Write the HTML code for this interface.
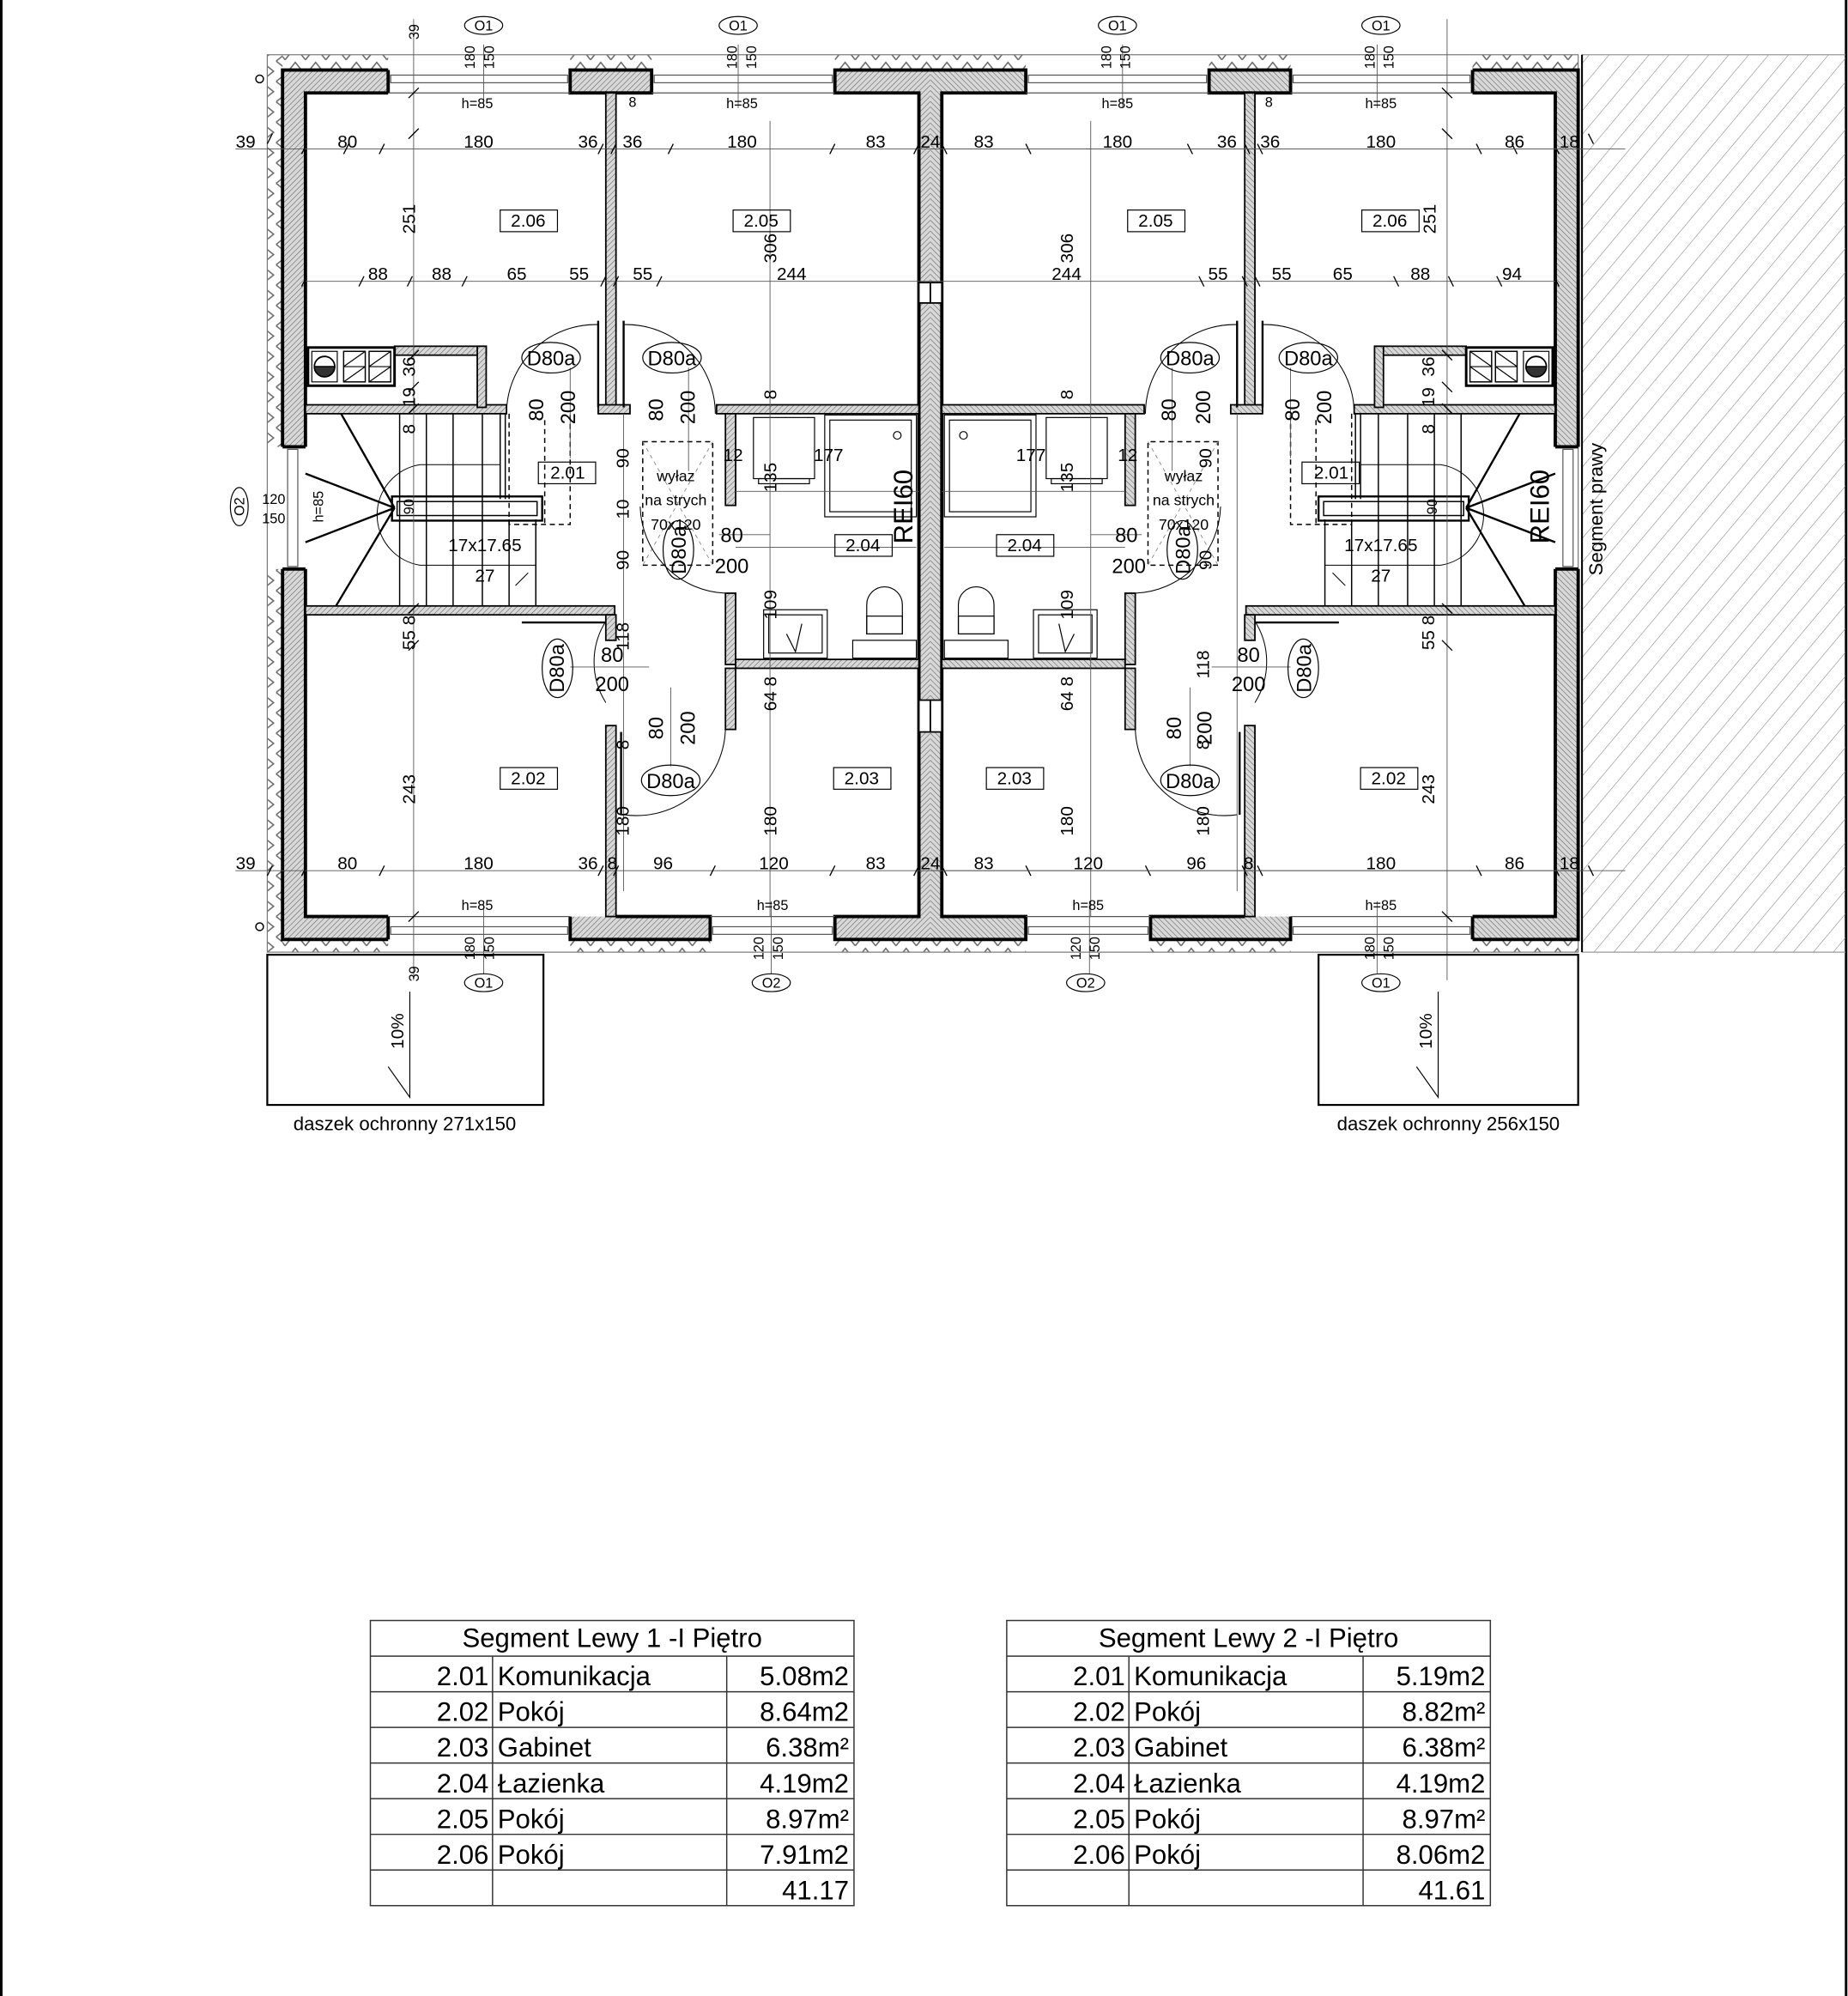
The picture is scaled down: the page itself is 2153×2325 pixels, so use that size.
<!DOCTYPE html>
<html><head><meta charset="utf-8">
<style>
html,body{margin:0;padding:0;background:#fff;}
svg{display:block;}
text{font-family:"Liberation Sans Narrow","Liberation Sans",sans-serif;fill:#000;}
.s{font-size:11px;}
.m{font-size:14px;}
.l{font-size:16px;}
.t{font-size:21px;font-family:"Liberation Sans",sans-serif;}
</style></head>
<body>
<svg width="2153" height="2325" viewBox="0 0 1452 1568" xmlns="http://www.w3.org/2000/svg">
<defs>
<pattern id="h" width="3" height="3" patternUnits="userSpaceOnUse" patternTransform="rotate(45)">
<rect width="3" height="3" fill="#d8d8d8"/><line x1="0" y1="0" x2="0" y2="3" stroke="#666" stroke-width="0.8"/>
</pattern>
<pattern id="big" width="12" height="12" patternUnits="userSpaceOnUse" patternTransform="rotate(40)">
<line x1="0" y1="0" x2="0" y2="12" stroke="#888" stroke-width="0.8"/>
</pattern>
<pattern id="zzv" width="12" height="16" patternUnits="userSpaceOnUse">
<polyline points="1,0 11,8 1,16" fill="none" stroke="#666" stroke-width="1"/>
</pattern>
<pattern id="zzh" width="16" height="12" patternUnits="userSpaceOnUse">
<polyline points="0,11 8,1 16,11" fill="none" stroke="#666" stroke-width="1"/>
</pattern>
<g id="half">
  <rect x="222" y="55" width="83" height="18" fill="url(#h)"/>
  <rect x="448" y="55" width="64" height="18" fill="url(#h)"/>
  <rect x="656" y="55" width="75" height="18" fill="url(#h)"/>
  <rect x="722" y="73" width="9" height="647" fill="url(#h)"/>
  <rect x="222" y="720" width="83" height="18" fill="url(#h)"/>
  <rect x="448" y="720" width="110" height="18" fill="url(#h)"/>
  <rect x="656" y="720" width="75" height="18" fill="url(#h)"/>
  <rect x="222" y="55" width="18" height="296" fill="url(#h)"/>
  <rect x="222" y="447" width="18" height="291" fill="url(#h)"/>
  <g stroke="#000" stroke-width="2.6" fill="none">
    <polyline points="305,55 222,55 222,351"/>
    <polyline points="305,73 240,73 240,351"/>
    <line x1="305" y1="55" x2="305" y2="73"/>
    <polyline points="222,351 240,351"/>
    <polyline points="222,447 240,447"/>
    <polyline points="305,738 222,738 222,447"/>
    <polyline points="305,720 240,720 240,447"/>
    <line x1="305" y1="720" x2="305" y2="738"/>
    <rect x="448" y="55" width="64" height="18"/>
    <polyline points="731,55 656,55 656,73 722,73 722,720 656,720 656,738 731,738"/>
    <polyline points="448,720 448,738 558,738 558,720 484,720"/>
  </g>
  <g stroke="#555" stroke-width="0.8" fill="none">
    <rect x="307" y="59" width="139" height="6"/>
    <rect x="514" y="59" width="140" height="6"/>
    <rect x="307" y="728" width="139" height="6"/>
    <rect x="560" y="728" width="94" height="6"/>
    <rect x="226" y="353" width="8" height="92"/>
    <line x1="305" y1="73" x2="448" y2="73"/>
    <line x1="512" y1="73" x2="656" y2="73"/>
    <line x1="305" y1="720" x2="448" y2="720"/>
    <line x1="558" y1="720" x2="656" y2="720"/>
  </g>
  <g fill="url(#h)" stroke="#000" stroke-width="1.2">
    <rect x="476" y="73" width="8" height="247"/>
    <rect x="240" y="318" width="158" height="7"/>
    <rect x="470" y="318" width="25" height="7"/>
    <rect x="563" y="318" width="159" height="7"/>
    <rect x="310" y="272" width="72" height="7"/>
    <rect x="375" y="272" width="7" height="48"/>
    <rect x="570" y="325" width="8" height="72"/>
    <rect x="570" y="466" width="8" height="56"/>
    <rect x="578" y="518" width="144" height="7"/>
    <rect x="570" y="525" width="8" height="48"/>
    <rect x="240" y="476" width="243" height="7"/>
    <rect x="476" y="483" width="8" height="20"/>
    <rect x="476" y="570" width="8" height="150"/>
    <rect x="722" y="222" width="9" height="16" fill="#fff"/>
    <rect x="722" y="550" width="9" height="25" fill="#fff"/>
  </g>
  <g stroke="#000" fill="none">
    <rect x="242" y="273" width="68" height="30" stroke-width="2"/>
    <rect x="245" y="276" width="20" height="24" stroke-width="0.8"/>
    <circle cx="255" cy="288" r="8" stroke-width="1.2"/>
    <path d="M247,288 A8,8 0 0 0 263,288 Z" fill="#333"/>
    <rect x="270" y="276" width="17" height="24" stroke-width="1"/>
    <rect x="290" y="276" width="17" height="24" stroke-width="1"/>
    <path d="M270,288h17M290,288h17M270,288l17,-12M270,300l17,-12M290,288l17,-12M290,300l17,-12" stroke-width="0.8"/>
  </g>
  <g stroke="#000" fill="none" stroke-width="1">
    <line x1="314" y1="325" x2="314" y2="476"/><line x1="335" y1="325" x2="335" y2="476"/>
    <line x1="356" y1="325" x2="356" y2="476"/><line x1="379" y1="325" x2="379" y2="476"/>
    <line x1="400" y1="408" x2="400" y2="476"/><line x1="421" y1="408" x2="421" y2="476"/>
    <line x1="393" y1="325" x2="393" y2="392"/><line x1="397" y1="325" x2="397" y2="392"/>
    <rect x="308" y="390" width="118" height="19" stroke-width="1.6"/>
    <rect x="312" y="394" width="110" height="11"/>
    <g stroke-width="1.6">
    <line x1="310" y1="399" x2="268" y2="325"/>
    <line x1="310" y1="399" x2="240" y2="372"/>
    <line x1="310" y1="399" x2="240" y2="426"/>
    <line x1="310" y1="399" x2="264" y2="476"/>
    </g>
    <path d="M393,365 H330 A40,40 0 0 0 330,444 H421" stroke-width="0.7"/>
    <line x1="405" y1="460" x2="415" y2="450" stroke-width="0.7"/>
  </g>
  <g stroke="#000" fill="none" stroke-width="1" stroke-dasharray="4,3">
    <path d="M400,325 V412 H448 V325"/>
    <line x1="428" y1="330" x2="428" y2="412"/>
    <rect x="505" y="347" width="55" height="97"/>
  </g>
  <g stroke="#888" stroke-width="0.6" stroke-dasharray="3,3">
    <line x1="505" y1="347" x2="560" y2="444"/><line x1="560" y1="347" x2="505" y2="444"/>
  </g>
  <g stroke="#000" fill="none" stroke-width="0.7">
    <path d="M398,325 A70,70 0 0 1 470,255"/><line x1="470" y1="252" x2="470" y2="320" stroke-width="1.6"/>
    <path d="M562,325 A70,70 0 0 0 490,255"/><line x1="490" y1="252" x2="490" y2="320" stroke-width="1.6"/>
    <path d="M503,398 A70,70 0 0 0 570,466"/>
    <path d="M476,488 A60,60 0 0 0 476,552"/><line x1="410" y1="489" x2="476" y2="489" stroke-width="1.6"/>
    <path d="M570,570 A70,70 0 0 1 490,640"/><line x1="488" y1="575" x2="488" y2="640" stroke-width="1.6"/>
  </g>
  <g stroke="#000" fill="none" stroke-width="0.8">
    <rect x="592" y="328" width="48" height="48"/>
    <rect x="596" y="376" width="40" height="4"/>
    <rect x="648" y="326" width="72" height="80"/><rect x="652" y="330" width="64" height="72"/>
    <circle cx="705" cy="342" r="3"/>
    <path d="M681,498 V475 A14,14 0 0 1 709,475 V498 Z"/><rect x="681" y="484" width="28" height="14"/>
    <rect x="670" y="503" width="50" height="14"/>
    <rect x="600" y="479" width="50" height="38"/><rect x="604" y="483" width="42" height="30"/>
    <path d="M618,498 L625,512 L630,490"/>
  </g>
  <g stroke="#555" stroke-width="0.6">
    <line x1="325" y1="15" x2="325" y2="770"/>
    <line x1="605" y1="95" x2="605" y2="720"/>
    <line x1="490" y1="325" x2="490" y2="700"/>
    <line x1="185" y1="117" x2="731" y2="117"/>
    <line x1="240" y1="221" x2="731" y2="221"/>
    <line x1="185" y1="684" x2="731" y2="684"/>
    <line x1="578" y1="386" x2="722" y2="386"/>
    <line x1="578" y1="430" x2="720" y2="430"/>
    <line x1="380" y1="35" x2="380" y2="85"/><line x1="580" y1="35" x2="580" y2="85"/>
    <line x1="380" y1="708" x2="380" y2="765"/><line x1="606" y1="708" x2="606" y2="765"/>
    <line x1="448" y1="289" x2="448" y2="360"/><line x1="541" y1="289" x2="541" y2="370"/>
    <line x1="448" y1="524" x2="510" y2="524"/><line x1="565" y1="420" x2="605" y2="420"/>
    <line x1="527" y1="540" x2="527" y2="602"/>
  </g>
  <g stroke="#000" stroke-width="0.9">
    <path transform="translate(0,4)" d="M210,109l4,-8M237,117l4,-8M270,117l4,-8M298,117l4,-8M470,117l4,-8M480,117l4,-8M525,117l4,-8M652,117l4,-8M718,117l4,-8"/>
    <path transform="translate(0,4)" d="M237,221l4,-8M282,221l4,-8M320,221l4,-8M363,221l4,-8M472,221l4,-8M482,221l4,-8M516,221l4,-8"/>
    <path transform="translate(0,4)" d="M210,684l4,-8M237,684l4,-8M298,684l4,-8M470,684l4,-8M482,684l4,-8M558,684l4,-8M652,684l4,-8M718,684l4,-8"/>
    <path d="M321,77l8,-8M321,109l8,-8M321,283l8,-8M321,308l8,-8M321,325l8,-8M321,482l8,-8M321,511l8,-8M321,724l8,-8"/>
  </g>
</g>
</defs>

<rect x="0" y="0" width="1452" height="1568" fill="#fff"/>
<line x1="1" y1="0" x2="1" y2="1568" stroke="#000" stroke-width="2"/>
<line x1="1450.5" y1="0" x2="1450.5" y2="1568" stroke="#000" stroke-width="2"/>

<rect x="1243" y="43" width="207" height="705" fill="url(#big)"/>
<line x1="1243" y1="43" x2="1450" y2="43" stroke="#999" stroke-width="0.8"/>
<line x1="1243" y1="748" x2="1450" y2="748" stroke="#999" stroke-width="0.8"/>
<line x1="1243" y1="43" x2="1243" y2="748" stroke="#000" stroke-width="1.4"/>

<rect x="210" y="43" width="12" height="308" fill="url(#zzv)"/>
<rect x="210" y="447" width="12" height="301" fill="url(#zzv)"/>
<rect x="222" y="43" width="83" height="12" fill="url(#zzh)"/>
<rect x="448" y="43" width="64" height="12" fill="url(#zzh)"/>
<rect x="656" y="43" width="150" height="12" fill="url(#zzh)"/>
<rect x="950" y="43" width="64" height="12" fill="url(#zzh)"/>
<rect x="1157" y="43" width="83" height="12" fill="url(#zzh)"/>
<rect x="222" y="738" width="83" height="10" fill="url(#zzh)"/>
<rect x="448" y="738" width="110" height="10" fill="url(#zzh)"/>
<rect x="656" y="738" width="150" height="10" fill="url(#zzh)"/>
<rect x="904" y="738" width="110" height="10" fill="url(#zzh)"/>
<rect x="1157" y="738" width="83" height="10" fill="url(#zzh)"/>
<rect x="210" y="43" width="1030" height="705" fill="none" stroke="#777" stroke-width="0.8"/>

<use href="#half"/>
<use href="#half" transform="translate(1462,0) scale(-1,1)"/>

<rect x="210" y="750" width="217" height="118" fill="none" stroke="#000" stroke-width="1.5"/>
<rect x="1036" y="750" width="204" height="118" fill="none" stroke="#000" stroke-width="1.5"/>
<path d="M322,779 V862 L305,838" fill="none" stroke="#000" stroke-width="0.8"/>
<path d="M1130,779 V862 L1113,838" fill="none" stroke="#000" stroke-width="0.8"/>
<circle cx="204" cy="62" r="3" fill="none" stroke="#000"/>
<circle cx="204" cy="728" r="3" fill="none" stroke="#000"/>

<g fill="none" stroke="#000" stroke-width="0.8">
<rect x="393" y="165" width="45" height="17"/><rect x="576" y="165" width="45" height="17"/>
<rect x="886" y="165" width="45" height="17"/><rect x="1070" y="165" width="45" height="17"/>
<rect x="423" y="363" width="45" height="17"/><rect x="1023" y="363" width="45" height="17"/>
<rect x="656" y="420" width="45" height="17"/><rect x="783" y="420" width="45" height="17"/>
<rect x="393" y="603" width="45" height="17"/><rect x="1069" y="603" width="45" height="17"/>
<rect x="655" y="603" width="45" height="17"/><rect x="775" y="603" width="45" height="17"/>
<ellipse cx="380" cy="20" rx="15" ry="7"/><ellipse cx="580" cy="20" rx="15" ry="7"/>
<ellipse cx="878" cy="20" rx="15" ry="7"/><ellipse cx="1085" cy="20" rx="15" ry="7"/>
<ellipse cx="380" cy="772" rx="15" ry="7"/><ellipse cx="606" cy="772" rx="15" ry="7"/>
<ellipse cx="853" cy="772" rx="15" ry="7"/><ellipse cx="1085" cy="772" rx="15" ry="7"/>
<ellipse cx="188" cy="398" rx="7" ry="15"/>
<ellipse cx="433" cy="281" rx="23" ry="12"/><ellipse cx="528" cy="281" rx="23" ry="12"/>
<ellipse cx="935" cy="281" rx="23" ry="12"/><ellipse cx="1028" cy="281" rx="23" ry="12"/>
<ellipse cx="527" cy="613" rx="23" ry="12"/><ellipse cx="935" cy="613" rx="23" ry="12"/>
<ellipse cx="438" cy="525" rx="12" ry="23"/><ellipse cx="1024" cy="525" rx="12" ry="23"/>
<ellipse cx="533" cy="432" rx="12" ry="23"/><ellipse cx="929" cy="432" rx="12" ry="23"/>
</g>
<line x1="731" y1="117" x2="1240" y2="117" stroke="#555" stroke-width="0.6"/>
<line x1="731" y1="684" x2="1240" y2="684" stroke="#555" stroke-width="0.6"/>

<g class="m" text-anchor="middle">
<text x="415" y="178">2.06</text><text x="598" y="178">2.05</text><text x="908" y="178">2.05</text><text x="1092" y="178">2.06</text>
<text x="446" y="376">2.01</text><text x="1046" y="376">2.01</text>
<text x="678" y="433">2.04</text><text x="805" y="433">2.04</text>
<text x="415" y="616">2.02</text><text x="1091" y="616">2.02</text>
<text x="677" y="616">2.03</text><text x="797" y="616">2.03</text>
</g>
<g class="s" text-anchor="middle">
<text x="380" y="24">O1</text><text x="580" y="24">O1</text><text x="878" y="24">O1</text><text x="1085" y="24">O1</text>
<text x="380" y="776">O1</text><text x="606" y="776">O2</text><text x="853" y="776">O2</text><text x="1085" y="776">O1</text>
<text x="375" y="85">h=85</text><text x="583" y="85">h=85</text><text x="878" y="85">h=85</text><text x="1085" y="85">h=85</text>
<text x="375" y="715">h=85</text><text x="607" y="715">h=85</text><text x="855" y="715">h=85</text><text x="1085" y="715">h=85</text>
<text x="215" y="396">120</text><text x="215" y="411">150</text>
<text x="497" y="84">8</text><text x="997" y="84">8</text>
</g>
<g class="m" text-anchor="middle">
<text x="193" y="116">39</text><text x="273" y="116">80</text><text x="376" y="116">180</text><text x="462" y="116">36</text>
<text x="497" y="116">36</text><text x="583" y="116">180</text><text x="688" y="116">83</text><text x="731" y="116">24</text>
<text x="773" y="116">83</text><text x="878" y="116">180</text><text x="964" y="116">36</text><text x="998" y="116">36</text>
<text x="1085" y="116">180</text><text x="1190" y="116">86</text><text x="1233" y="116">18</text>
<text x="297" y="220">88</text><text x="347" y="220">88</text><text x="406" y="220">65</text><text x="455" y="220">55</text>
<text x="505" y="220">55</text><text x="622" y="220">244</text>
<text x="838" y="220">244</text><text x="957" y="220">55</text><text x="1007" y="220">55</text>
<text x="1055" y="220">65</text><text x="1116" y="220">88</text><text x="1188" y="220">94</text>
<text x="193" y="683">39</text><text x="273" y="683">80</text><text x="376" y="683">180</text><text x="462" y="683">36</text>
<text x="481" y="683">8</text><text x="521" y="683">96</text><text x="608" y="683">120</text><text x="688" y="683">83</text>
<text x="731" y="683">24</text><text x="773" y="683">83</text><text x="855" y="683">120</text><text x="940" y="683">96</text>
<text x="981" y="683">8</text><text x="1085" y="683">180</text><text x="1190" y="683">86</text><text x="1233" y="683">18</text>
<text x="576" y="362">12</text><text x="651" y="362">177</text><text x="886" y="362">12</text><text x="810" y="362">177</text>
<text x="381" y="433">17x17.65</text><text x="381" y="457">27</text>
<text x="1085" y="433">17x17.65</text><text x="1085" y="457">27</text>
<text x="531" y="378" style="font-size:12px">wyłaz</text><text x="531" y="397" style="font-size:12px">na strych</text><text x="531" y="416" style="font-size:12px">70x120</text>
<text x="930" y="378" style="font-size:12px">wyłaz</text><text x="930" y="397" style="font-size:12px">na strych</text><text x="930" y="416" style="font-size:12px">70x120</text>
</g>
<g class="l" text-anchor="middle">
<text x="433" y="287">D80a</text><text x="528" y="287">D80a</text><text x="935" y="287">D80a</text><text x="1028" y="287">D80a</text>
<text x="527" y="619">D80a</text><text x="935" y="619">D80a</text>
<text x="575" y="426">80</text><text x="575" y="450">200</text><text x="885" y="426">80</text><text x="887" y="450">200</text>
<text x="481" y="520">80</text><text x="481" y="543">200</text><text x="981" y="520">80</text><text x="981" y="543">200</text>
</g>
<g class="l" text-anchor="middle">
<text transform="translate(443,525) rotate(-90)">D80a</text>
<text transform="translate(1030,525) rotate(-90)">D80a</text>
<text transform="translate(539,432) rotate(-90)">D80a</text>
<text transform="translate(935,432) rotate(-90)">D80a</text>
<text transform="translate(427,322) rotate(-90)">80</text><text transform="translate(452,320) rotate(-90)">200</text>
<text transform="translate(521,322) rotate(-90)">80</text><text transform="translate(546,320) rotate(-90)">200</text>
<text transform="translate(924,322) rotate(-90)">80</text><text transform="translate(951,320) rotate(-90)">200</text>
<text transform="translate(1021,322) rotate(-90)">80</text><text transform="translate(1046,320) rotate(-90)">200</text>
<text transform="translate(521,572) rotate(-90)">80</text><text transform="translate(546,572) rotate(-90)">200</text>
<text transform="translate(928,572) rotate(-90)">80</text><text transform="translate(952,572) rotate(-90)">200</text>
</g>
<g class="s" text-anchor="middle">
<text transform="translate(329,25) rotate(-90)">39</text><text transform="translate(329,765) rotate(-90)">39</text>
<text transform="translate(373,45) rotate(-90)">180</text><text transform="translate(388,45) rotate(-90)">150</text>
<text transform="translate(579,45) rotate(-90)">180</text><text transform="translate(594,45) rotate(-90)">150</text>
<text transform="translate(873,45) rotate(-90)">180</text><text transform="translate(888,45) rotate(-90)">150</text>
<text transform="translate(1080,45) rotate(-90)">180</text><text transform="translate(1095,45) rotate(-90)">150</text>
<text transform="translate(373,745) rotate(-90)">180</text><text transform="translate(388,745) rotate(-90)">150</text>
<text transform="translate(600,745) rotate(-90)">120</text><text transform="translate(615,745) rotate(-90)">150</text>
<text transform="translate(849,745) rotate(-90)">120</text><text transform="translate(864,745) rotate(-90)">150</text>
<text transform="translate(1080,745) rotate(-90)">180</text><text transform="translate(1095,745) rotate(-90)">150</text>
<text transform="translate(192,398) rotate(-90)">O2</text>
<text transform="translate(254,398) rotate(-90)">h=85</text>
</g>
<g class="m" text-anchor="middle">
<text transform="translate(326,172) rotate(-90)">251</text><text transform="translate(610,195) rotate(-90)">306</text>
<text transform="translate(843,195) rotate(-90)">306</text><text transform="translate(1128,172) rotate(-90)">251</text>
<text transform="translate(326,288) rotate(-90)">36</text><text transform="translate(326,312) rotate(-90)">19</text>
<text transform="translate(326,337) rotate(-90)">8</text><text transform="translate(610,310) rotate(-90)">8</text>
<text transform="translate(843,310) rotate(-90)">8</text>
<text transform="translate(1127,288) rotate(-90)">36</text><text transform="translate(1127,312) rotate(-90)">19</text>
<text transform="translate(1127,337) rotate(-90)">8</text>
<text transform="translate(494,360) rotate(-90)">90</text><text transform="translate(494,400) rotate(-90)">10</text>
<text transform="translate(494,440) rotate(-90)">90</text>
<text transform="translate(952,360) rotate(-90)">90</text><text transform="translate(952,440) rotate(-90)">90</text>
<text transform="translate(610,375) rotate(-90)">135</text><text transform="translate(610,475) rotate(-90)">109</text>
<text transform="translate(843,375) rotate(-90)">135</text><text transform="translate(843,475) rotate(-90)">109</text>
<text transform="translate(494,500) rotate(-90)">118</text><text transform="translate(950,522) rotate(-90)">118</text>
<text transform="translate(326,497) rotate(-90)">55  8</text><text transform="translate(1127,497) rotate(-90)">55  8</text>
<text transform="translate(326,620) rotate(-90)">243</text><text transform="translate(1127,620) rotate(-90)">243</text>
<text transform="translate(494,585) rotate(-90)">8</text><text transform="translate(950,585) rotate(-90)">8</text>
<text transform="translate(494,645) rotate(-90)">180</text><text transform="translate(950,645) rotate(-90)">180</text>
<text transform="translate(610,545) rotate(-90)">64  8</text><text transform="translate(843,545) rotate(-90)">64  8</text>
<text transform="translate(610,645) rotate(-90)">180</text><text transform="translate(843,645) rotate(-90)">180</text>
<text transform="translate(325,398) rotate(-90)" class="s">90</text><text transform="translate(1129,398) rotate(-90)" class="s">90</text>
<text transform="translate(317,810) rotate(-90)">10%</text><text transform="translate(1125,810) rotate(-90)">10%</text>
</g>
<g style="font-size:21px;font-family:'Liberation Sans',sans-serif" text-anchor="middle">
<text transform="translate(717,398) rotate(-90)">REI60</text>
<text transform="translate(1217,398) rotate(-90)">REI60</text>
</g>
<text transform="translate(1259,400) rotate(-90)" text-anchor="middle" style="font-size:15px;font-family:'Liberation Sans',sans-serif">Segment prawy</text>
<text x="318" y="888" text-anchor="middle" style="font-size:15px">daszek ochronny 271x150</text>
<text x="1138" y="888" text-anchor="middle" style="font-size:15px">daszek ochronny 256x150</text>

<g stroke="#333" stroke-width="1" fill="none">
<rect x="291" y="1273" width="380" height="224"/>
<rect x="791" y="1273" width="380" height="224"/>
<path d="M291,1301H671M291,1329H671M291,1357H671M291,1385H671M291,1413H671M291,1441H671M291,1469H671M387,1301V1497M571,1301V1497"/>
<path d="M791,1301H1171M791,1329H1171M791,1357H1171M791,1385H1171M791,1413H1171M791,1441H1171M791,1469H1171M887,1301V1497M1071,1301V1497"/>
</g>
<g class="t">
<text x="481" y="1294" text-anchor="middle">Segment Lewy 1 -I Piętro</text>
<text x="981" y="1294" text-anchor="middle">Segment Lewy 2 -I Piętro</text>
<g text-anchor="end">
<text x="384" y="1324">2.01</text><text x="384" y="1352">2.02</text><text x="384" y="1380">2.03</text>
<text x="384" y="1408">2.04</text><text x="384" y="1436">2.05</text><text x="384" y="1464">2.06</text>
<text x="667" y="1324">5.08m2</text><text x="667" y="1352">8.64m2</text><text x="667" y="1380">6.38m²</text>
<text x="667" y="1408">4.19m2</text><text x="667" y="1436">8.97m²</text><text x="667" y="1464">7.91m2</text>
<text x="667" y="1492">41.17</text>
<text x="884" y="1324">2.01</text><text x="884" y="1352">2.02</text><text x="884" y="1380">2.03</text>
<text x="884" y="1408">2.04</text><text x="884" y="1436">2.05</text><text x="884" y="1464">2.06</text>
<text x="1167" y="1324">5.19m2</text><text x="1167" y="1352">8.82m²</text><text x="1167" y="1380">6.38m²</text>
<text x="1167" y="1408">4.19m2</text><text x="1167" y="1436">8.97m²</text><text x="1167" y="1464">8.06m2</text>
<text x="1167" y="1492">41.61</text>
</g>
<text x="391" y="1324">Komunikacja</text><text x="391" y="1352">Pokój</text><text x="391" y="1380">Gabinet</text>
<text x="391" y="1408">Łazienka</text><text x="391" y="1436">Pokój</text><text x="391" y="1464">Pokój</text>
<text x="891" y="1324">Komunikacja</text><text x="891" y="1352">Pokój</text><text x="891" y="1380">Gabinet</text>
<text x="891" y="1408">Łazienka</text><text x="891" y="1436">Pokój</text><text x="891" y="1464">Pokój</text>
</g>
</svg>
</body></html>
